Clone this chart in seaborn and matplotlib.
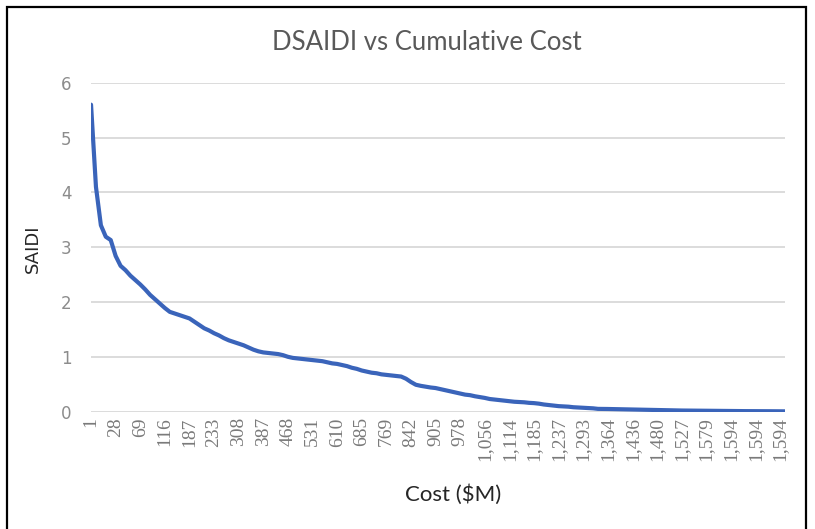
import numpy as np
import pandas as pd
import seaborn as sns
import matplotlib.pyplot as plt
from matplotlib.patches import Rectangle

# x-axis category labels (Excel shows every 5th category)
cost_labels = ["1", "28", "69", "116", "187", "233", "308", "387", "468",
               "531", "610", "685", "769", "842", "905", "978", "1,056",
               "1,114", "1,185", "1,237", "1,293", "1,364", "1,436", "1,480",
               "1,527", "1,579", "1,594", "1,594", "1,594"]
label_step = 5

# SAIDI, one value per category
saidi = [
    5.60, 4.10, 3.40, 3.19, 3.13, 2.84, 2.66, 2.58, 2.48, 2.40,
    2.32, 2.23, 2.13, 2.05, 1.97, 1.89, 1.82, 1.79, 1.76, 1.73,
    1.70, 1.64, 1.58, 1.52, 1.48, 1.43, 1.39, 1.34, 1.30, 1.27,
    1.24, 1.21, 1.17, 1.13, 1.10, 1.08, 1.07, 1.06, 1.05, 1.03,
    1.00, 0.98, 0.97, 0.96, 0.95, 0.94, 0.93, 0.92, 0.90, 0.88,
    0.87, 0.85, 0.83, 0.80, 0.78, 0.75, 0.73, 0.71, 0.70, 0.68,
    0.67, 0.66, 0.65, 0.64, 0.60, 0.54, 0.49, 0.47, 0.455, 0.44,
    0.43, 0.41, 0.39, 0.37, 0.35, 0.33, 0.31, 0.30, 0.28, 0.265,
    0.25, 0.23, 0.22, 0.21, 0.20, 0.19, 0.18, 0.175, 0.17, 0.16,
    0.155, 0.145, 0.13, 0.12, 0.11, 0.10, 0.095, 0.09, 0.08, 0.075,
    0.07, 0.065, 0.06, 0.05, 0.05, 0.048, 0.046, 0.045, 0.043, 0.04,
    0.038, 0.035, 0.033, 0.03, 0.03, 0.028, 0.026, 0.024, 0.022, 0.021,
    0.02, 0.019, 0.019, 0.018, 0.017, 0.016, 0.015, 0.015, 0.014, 0.013,
    0.012, 0.011, 0.010, 0.009, 0.009, 0.008, 0.008, 0.007, 0.007, 0.006,
    0.006, 0.005,
]

df = pd.DataFrame({"idx": np.arange(len(saidi)), "saidi": saidi})

sns.set_theme(style="white")
plt.rcParams["font.family"] = ["DejaVu Sans"]

fig = plt.figure(figsize=(8.15, 5.29), dpi=100)
ax = fig.add_axes([0.1117, 0.2219, 0.8515, 0.6217])

sns.lineplot(data=df, x="idx", y="saidi", ax=ax, color="#3a64ba", linewidth=3.0)

ax.set_xlim(0, len(saidi) - 1)
ax.set_ylim(0, 6)
ax.set_yticks(range(0, 7))
ax.yaxis.grid(True, color="#d9d9d9", linewidth=1.3)
ax.set_axisbelow(True)
for s in ax.spines.values():
    s.set_visible(False)

ax.set_xticks(range(0, len(saidi), label_step))
ax.set_xticklabels(cost_labels, rotation=90, family="Liberation Serif",
                   fontsize=14, color="#7a7a7a")
ax.tick_params(axis="x", length=0, pad=4)
ax.tick_params(axis="y", length=0, pad=14, labelsize=12, labelcolor="#8c8c8c")
ax.set_xlabel("")
ax.set_ylabel("")

fig.text(0.524, 0.9206, "DSAIDI vs Cumulative Cost", ha="center", va="center",
         family="Lato", fontsize=18.5, color="#595959")
fig.text(0.556, 0.066, "Cost ($M)", ha="center", va="center",
         family="Lato", fontsize=16, color="#262626")
fig.text(0.040, 0.53, "SAIDI", ha="center", va="center", rotation=90,
         family="DejaVu Sans", fontsize=13, color="#262626")

fig.patches.append(Rectangle((7 / 815, -0.01), 799 / 815, 1 - 7 / 529 + 0.01,
                             transform=fig.transFigure, fill=False,
                             edgecolor="black", linewidth=1.6))

fig.savefig("out.png", dpi=100)
